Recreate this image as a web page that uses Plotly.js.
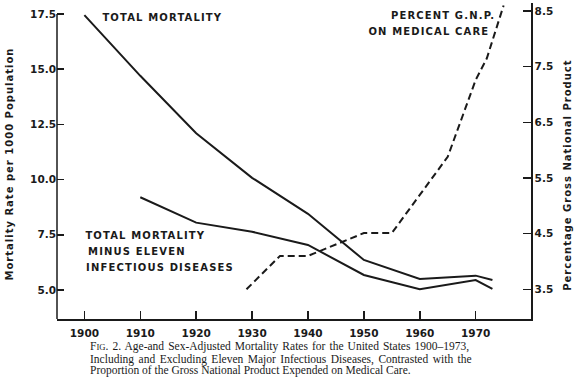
<!DOCTYPE html>
<html>
<head>
<meta charset="utf-8">
<script src="https://cdn.plot.ly/plotly-3.0.1.min.js"></script>
<style>
  html, body { margin: 0; padding: 0; background: #fff; }
  #chart { width: 577px; height: 378px; }
  /* wide letter spacing of the printed labels */
  g.annotation[data-index="0"] text, g.annotation[data-index="1"] text,
  g.annotation[data-index="2"] text, g.annotation[data-index="3"] text,
  g.annotation[data-index="4"] text, g.annotation[data-index="5"] text { letter-spacing: 1.15px; }
  g.annotation[data-index="6"] text, g.annotation[data-index="7"] text { letter-spacing: 1px; }
  /* justified caption lines */
  g.annotation[data-index="8"] text { word-spacing: 1.2px; }
  g.annotation[data-index="9"] text { word-spacing: 1.6px; }
</style>
</head>
<body>
<div id="chart"></div>
<script>
// ---- data ----
const yearsTotal = [1900, 1910, 1920, 1930, 1940, 1950, 1960, 1970, 1973];
const totalMortality = [17.45, 14.7, 12.1, 10.08, 8.45, 6.36, 5.5, 5.65, 5.45];

const yearsMinus = [1910, 1920, 1930, 1940, 1950, 1960, 1970, 1973];
const minusInfectious = [9.2, 8.05, 7.64, 7.04, 5.68, 5.03, 5.45, 5.05];

const yearsGNP = [1929, 1935, 1940, 1950, 1955, 1965, 1970, 1972, 1975];
const percentGNP = [3.5, 4.1, 4.1, 4.51, 4.51, 5.88, 7.26, 7.65, 8.6];

const xTicks = [1900, 1910, 1920, 1930, 1940, 1950, 1960, 1970];
const leftTicks = [5.0, 7.5, 10.0, 12.5, 15.0, 17.5];
const rightTicks = [3.5, 4.5, 5.5, 6.5, 7.5, 8.5];

const ink = '#1a1a1a';
const boldFont = 'DejaVu Sans';

const traces = [
  { x: yearsTotal, y: totalMortality, type: 'scatter', mode: 'lines',
    line: { color: ink, width: 2 }, yaxis: 'y', hoverinfo: 'skip' },
  { x: yearsMinus, y: minusInfectious, type: 'scatter', mode: 'lines',
    line: { color: ink, width: 2 }, yaxis: 'y', hoverinfo: 'skip' },
  { x: yearsGNP, y: percentGNP, type: 'scatter', mode: 'lines',
    line: { color: ink, width: 2, dash: '7px,4px' }, yaxis: 'y2', hoverinfo: 'skip' }
];

const tickFont = { family: boldFont, size: 10.5, color: ink, weight: 'bold' };
const lblFont = { family: boldFont, size: 10, color: ink, weight: 'bold' };
const capFont = { family: 'Liberation Serif', size: 11.5, color: ink };

function lbl(text, x, y) {
  return { text: text, xref: 'paper', yref: 'paper', x: x, y: y,
           xanchor: 'center', yanchor: 'middle', showarrow: false, font: lblFont };
}
function cap(text, y) {
  return { text: text, xref: 'paper', yref: 'paper', x: 0.0655, y: y,
           xanchor: 'left', yanchor: 'middle', showarrow: false, font: capFont, align: 'left' };
}

const layout = {
  width: 577, height: 378,
  margin: { l: 57, r: 46, t: 3, b: 59 },
  paper_bgcolor: '#fff', plot_bgcolor: '#fff',
  showlegend: false,
  xaxis: {
    range: [1895.1, 1979.9], tickvals: xTicks, ticks: 'inside', ticklen: 8, tickwidth: 1.5,
    tickcolor: ink, showline: true, linecolor: ink, linewidth: 1.5, showgrid: false,
    zeroline: false, ticklabelstandoff: 4,
    tickfont: { family: boldFont, size: 10.5, color: ink, weight: 'bold' },
    fixedrange: true
  },
  yaxis: {
    range: [3.686, 17.998], tickvals: leftTicks, tickformat: '.1f', ticks: 'inside', ticklen: 7,
    tickwidth: 1.5, tickcolor: ink, showline: false, showgrid: false, zeroline: false,
    tickfont: tickFont, fixedrange: true
  },
  yaxis2: {
    range: [2.966, 8.644], tickvals: rightTicks, tickformat: '.1f', ticks: 'inside', ticklen: 8,
    tickwidth: 1.5, tickcolor: ink, showline: true, linecolor: ink, linewidth: 1.5,
    showgrid: false, zeroline: false, overlaying: 'y', side: 'right',
    tickfont: tickFont, fixedrange: true
  },
  shapes: [
    { type: 'line', xref: 'paper', yref: 'y', x0: 0, x1: 0, y0: 3.686, y1: 17.5,
      line: { color: ink, width: 1.5 } }
  ],
  annotations: [
    lbl('TOTAL MORTALITY', 0.2232, 0.953),
    lbl('PERCENT G.N.P.', 0.8139, 0.962),
    lbl('ON MEDICAL CARE', 0.7845, 0.9098),
    lbl('TOTAL MORTALITY', 0.1874, 0.2627),
    lbl('MINUS ELEVEN', 0.1685, 0.2136),
    lbl('INFECTIOUS DISEASES', 0.2176, 0.1636),
    { text: 'Mortality Rate per 1000 Population', xref: 'paper', yref: 'paper',
      x: -0.0992, y: 0.492, xanchor: 'center', yanchor: 'middle', textangle: -90,
      showarrow: false, font: { family: boldFont, size: 10, color: ink, weight: 'bold' } },
    { text: 'Percentage Gross National Product', xref: 'paper', yref: 'paper',
      x: 1.076, y: 0.455, xanchor: 'center', yanchor: 'middle', textangle: -90,
      showarrow: false, font: { family: boldFont, size: 10, color: ink, weight: 'bold' } },
    cap('F<span style="font-size:8.6px">IG</span>. 2. Age-and Sex-Adjusted Mortality Rates for the United States 1900–1973,', -0.0877),
    cap('Including and Excluding Eleven Major Infectious Diseases, Contrasted with the', -0.1266),
    cap('Proportion of the Gross National Product Expended on Medical Care.', -0.1636)
  ]
};

Plotly.newPlot('chart', traces, layout, { displayModeBar: false, staticPlot: true });
</script>
</body>
</html>
